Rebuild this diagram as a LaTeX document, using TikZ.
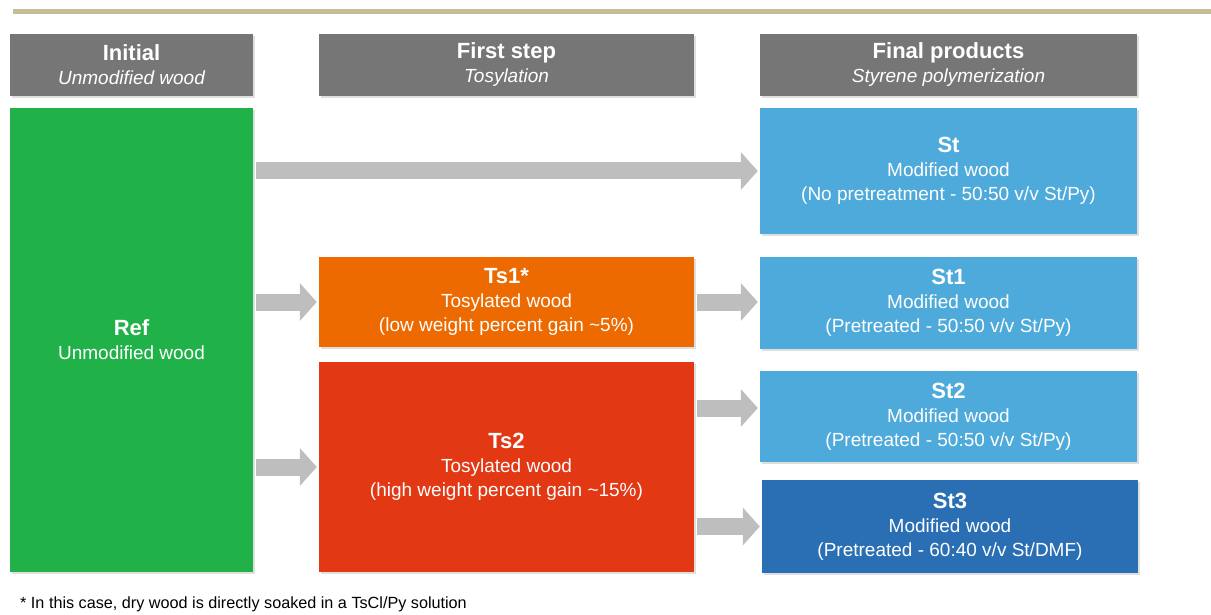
\documentclass[tikz,border=0pt]{standalone}
\usepackage{fontspec}
\setmainfont{Liberation Sans}
\usetikzlibrary{arrows.meta,shadows}
\definecolor{rulecol}{RGB}{197,188,152}
\definecolor{hdrgray}{RGB}{118,118,118}
\definecolor{refgreen}{RGB}{32,178,72}
\definecolor{tsorange}{RGB}{236,106,0}
\definecolor{tsred}{RGB}{226,56,20}
\definecolor{stblue}{RGB}{78,170,218}
\definecolor{stdark}{RGB}{42,110,180}
\definecolor{arrgray}{RGB}{190,190,190}
\newcommand{\ttl}[1]{{\fontsize{22}{24}\selectfont\bfseries #1}}
\newcommand{\sub}[1]{{\fontsize{19}{24}\selectfont\itshape #1}}
\begin{document}
\begin{tikzpicture}[x=1pt,y=-1pt,
    hdr/.style={fill=hdrgray,text=white,align=center,inner sep=0pt,
      font=\fontsize{19}{24}\selectfont,
      drop shadow={opacity=0.25,shadow xshift=1.5pt,shadow yshift=-2pt}},
    box/.style={text=white,align=center,inner sep=0pt,
      font=\fontsize{19}{24}\selectfont,
      drop shadow={opacity=0.25,shadow xshift=1.5pt,shadow yshift=-2pt}},
    arr/.style={draw=arrgray,line width=17pt,-{Triangle[width=37pt,length=17pt]},
      shorten <=3pt,shorten >=2pt}]
    \useasboundingbox (0,0) rectangle (1211,615);
    \draw[line width=5pt,rulecol] (13,12) -- (1211,12);
    \node[hdr,minimum width=243pt,minimum height=62pt] (hinit) at (131.5,65) {\ttl{Initial}\\\sub{Unmodified wood}};
    \node[hdr,minimum width=375pt,minimum height=62pt] (hfirst) at (506.5,65) {\ttl{First step}\\\sub{Tosylation}};
    \node[hdr,minimum width=377pt,minimum height=62pt] (hfinal) at (948.5,65) {\ttl{Final products}\\\sub{Styrene polymerization}};
    \node[box,fill=refgreen,minimum width=243pt,minimum height=464pt] (ref) at (131.5,340) {\ttl{Ref}\\Unmodified wood};
    \node[box,fill=stblue,minimum width=377pt,minimum height=126pt] (st) at (948.5,171) {\ttl{St}\\Modified wood\\(No pretreatment - 50:50 v/v St/Py)};
    \node[box,fill=tsorange,minimum width=375pt,minimum height=90pt] (ts1) at (506.5,302) {\ttl{Ts1*}\\Tosylated wood\\(low weight percent gain \textasciitilde5\%)};
    \node[box,fill=stblue,minimum width=377pt,minimum height=92pt] (st1) at (948.5,303) {\ttl{St1}\\Modified wood\\(Pretreated - 50:50 v/v St/Py)};
    \node[box,fill=tsred,minimum width=375pt,minimum height=210pt] (ts2) at (506.5,467) {\ttl{Ts2}\\Tosylated wood\\(high weight percent gain \textasciitilde15\%)};
    \node[box,fill=stblue,minimum width=377pt,minimum height=91pt] (st2) at (948.5,416.5) {\ttl{St2}\\Modified wood\\(Pretreated - 50:50 v/v St/Py)};
    \node[box,fill=stdark,minimum width=376pt,minimum height=93pt] (st3) at (950,526.5) {\ttl{St3}\\Modified wood\\(Pretreated - 60:40 v/v St/DMF)};
    \draw[arr] (ref.east |- st) -- (st.west);
    \draw[arr] (ref.east |- ts1) -- (ts1.west);
    \draw[arr] (ref.east |- ts2) -- (ts2.west);
    \draw[arr] (ts1.east) -- (st1.west |- ts1);
    \draw[arr] (ts2.east |- 0,408) -- (st2.west |- 0,408);
    \draw[arr] (ts2.east |- st3) -- (st3.west);
    \node[anchor=west,inner sep=0pt,font=\fontsize{16.2}{18}\selectfont] (note) at (20,604) {* In this case, dry wood is directly soaked in a TsCl/Py solution};
\end{tikzpicture}
\end{document}
